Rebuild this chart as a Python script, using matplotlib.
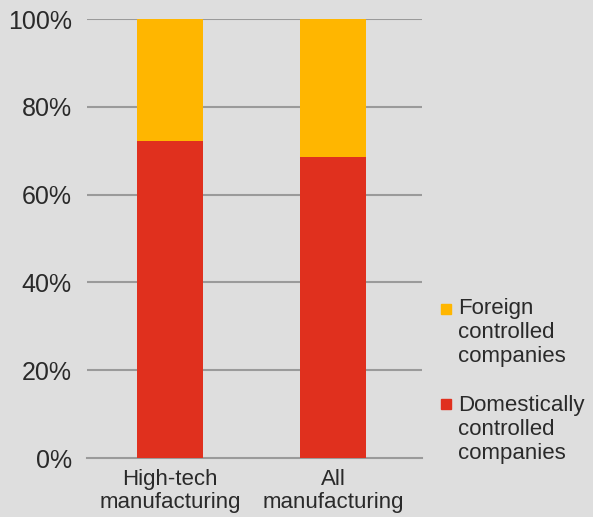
import matplotlib
matplotlib.use("Agg")
import matplotlib.pyplot as plt
from matplotlib.patches import Rectangle

plt.rcParams['font.family'] = ['Liberation Sans', 'DejaVu Sans']

categories = ["High-tech\nmanufacturing", "All\nmanufacturing"]
domestic = [72.2, 68.6]
foreign = [27.8, 31.4]
series_labels = ["Foreign\ncontrolled\ncompanies", "Domestically\ncontrolled\ncompanies"]
yticks = [0, 20, 40, 60, 80, 100]
ytick_labels = ["0%", "20%", "40%", "60%", "80%", "100%"]

bg = "#dedede"
red = "#e0301e"
yellow = "#ffb600"
txt = "#2a2a2a"
W, H = 593, 517

fig = plt.figure(figsize=(W/100, H/100), dpi=100, facecolor=bg)
ax = fig.add_axes([87/W, 1-458/H, (422-87)/W, (458-19)/H])
ax.set_facecolor(bg)

x = list(range(len(categories)))
ax.bar(x, domestic, width=0.405, color=red, zorder=3)
ax.bar(x, foreign, bottom=domestic, width=0.405, color=yellow, zorder=3)

ax.set_xlim(-0.509, 1.546)
ax.set_ylim(0, 100)
ax.set_yticks(yticks)
ax.set_yticklabels(ytick_labels, fontsize=18, color=txt)
ax.set_xticks(x)
ax.set_xticklabels(categories, fontsize=16, color=txt, linespacing=1.1)
ax.tick_params(axis='y', length=0, pad=10.8)
ax.tick_params(axis='x', length=0, pad=8)
for t in yticks[1:]:
    ax.axhline(t, color="#9a9a9a", linewidth=1.5, zorder=1)
for s in ["top", "right", "left"]:
    ax.spines[s].set_visible(False)
ax.spines["bottom"].set_color("#9a9a9a")
ax.spines["bottom"].set_linewidth(1.5)

# legend (manual, squares aligned to first line)
leg_colors = [yellow, red]
leg_text_top = [298, 395]
leg_sq_top = [304, 399]
for lab, col, tt, st in zip(series_labels, leg_colors, leg_text_top, leg_sq_top):
    fig.patches.append(Rectangle((441/W, 1-(st+10)/H), 10/W, 10/H,
                                 transform=fig.transFigure, color=col))
    fig.text(458/W, 1-tt/H, lab, fontsize=16, color=txt, va='top', ha='left',
             linespacing=1.19)

fig.savefig("out.png", dpi=100, facecolor=bg)
